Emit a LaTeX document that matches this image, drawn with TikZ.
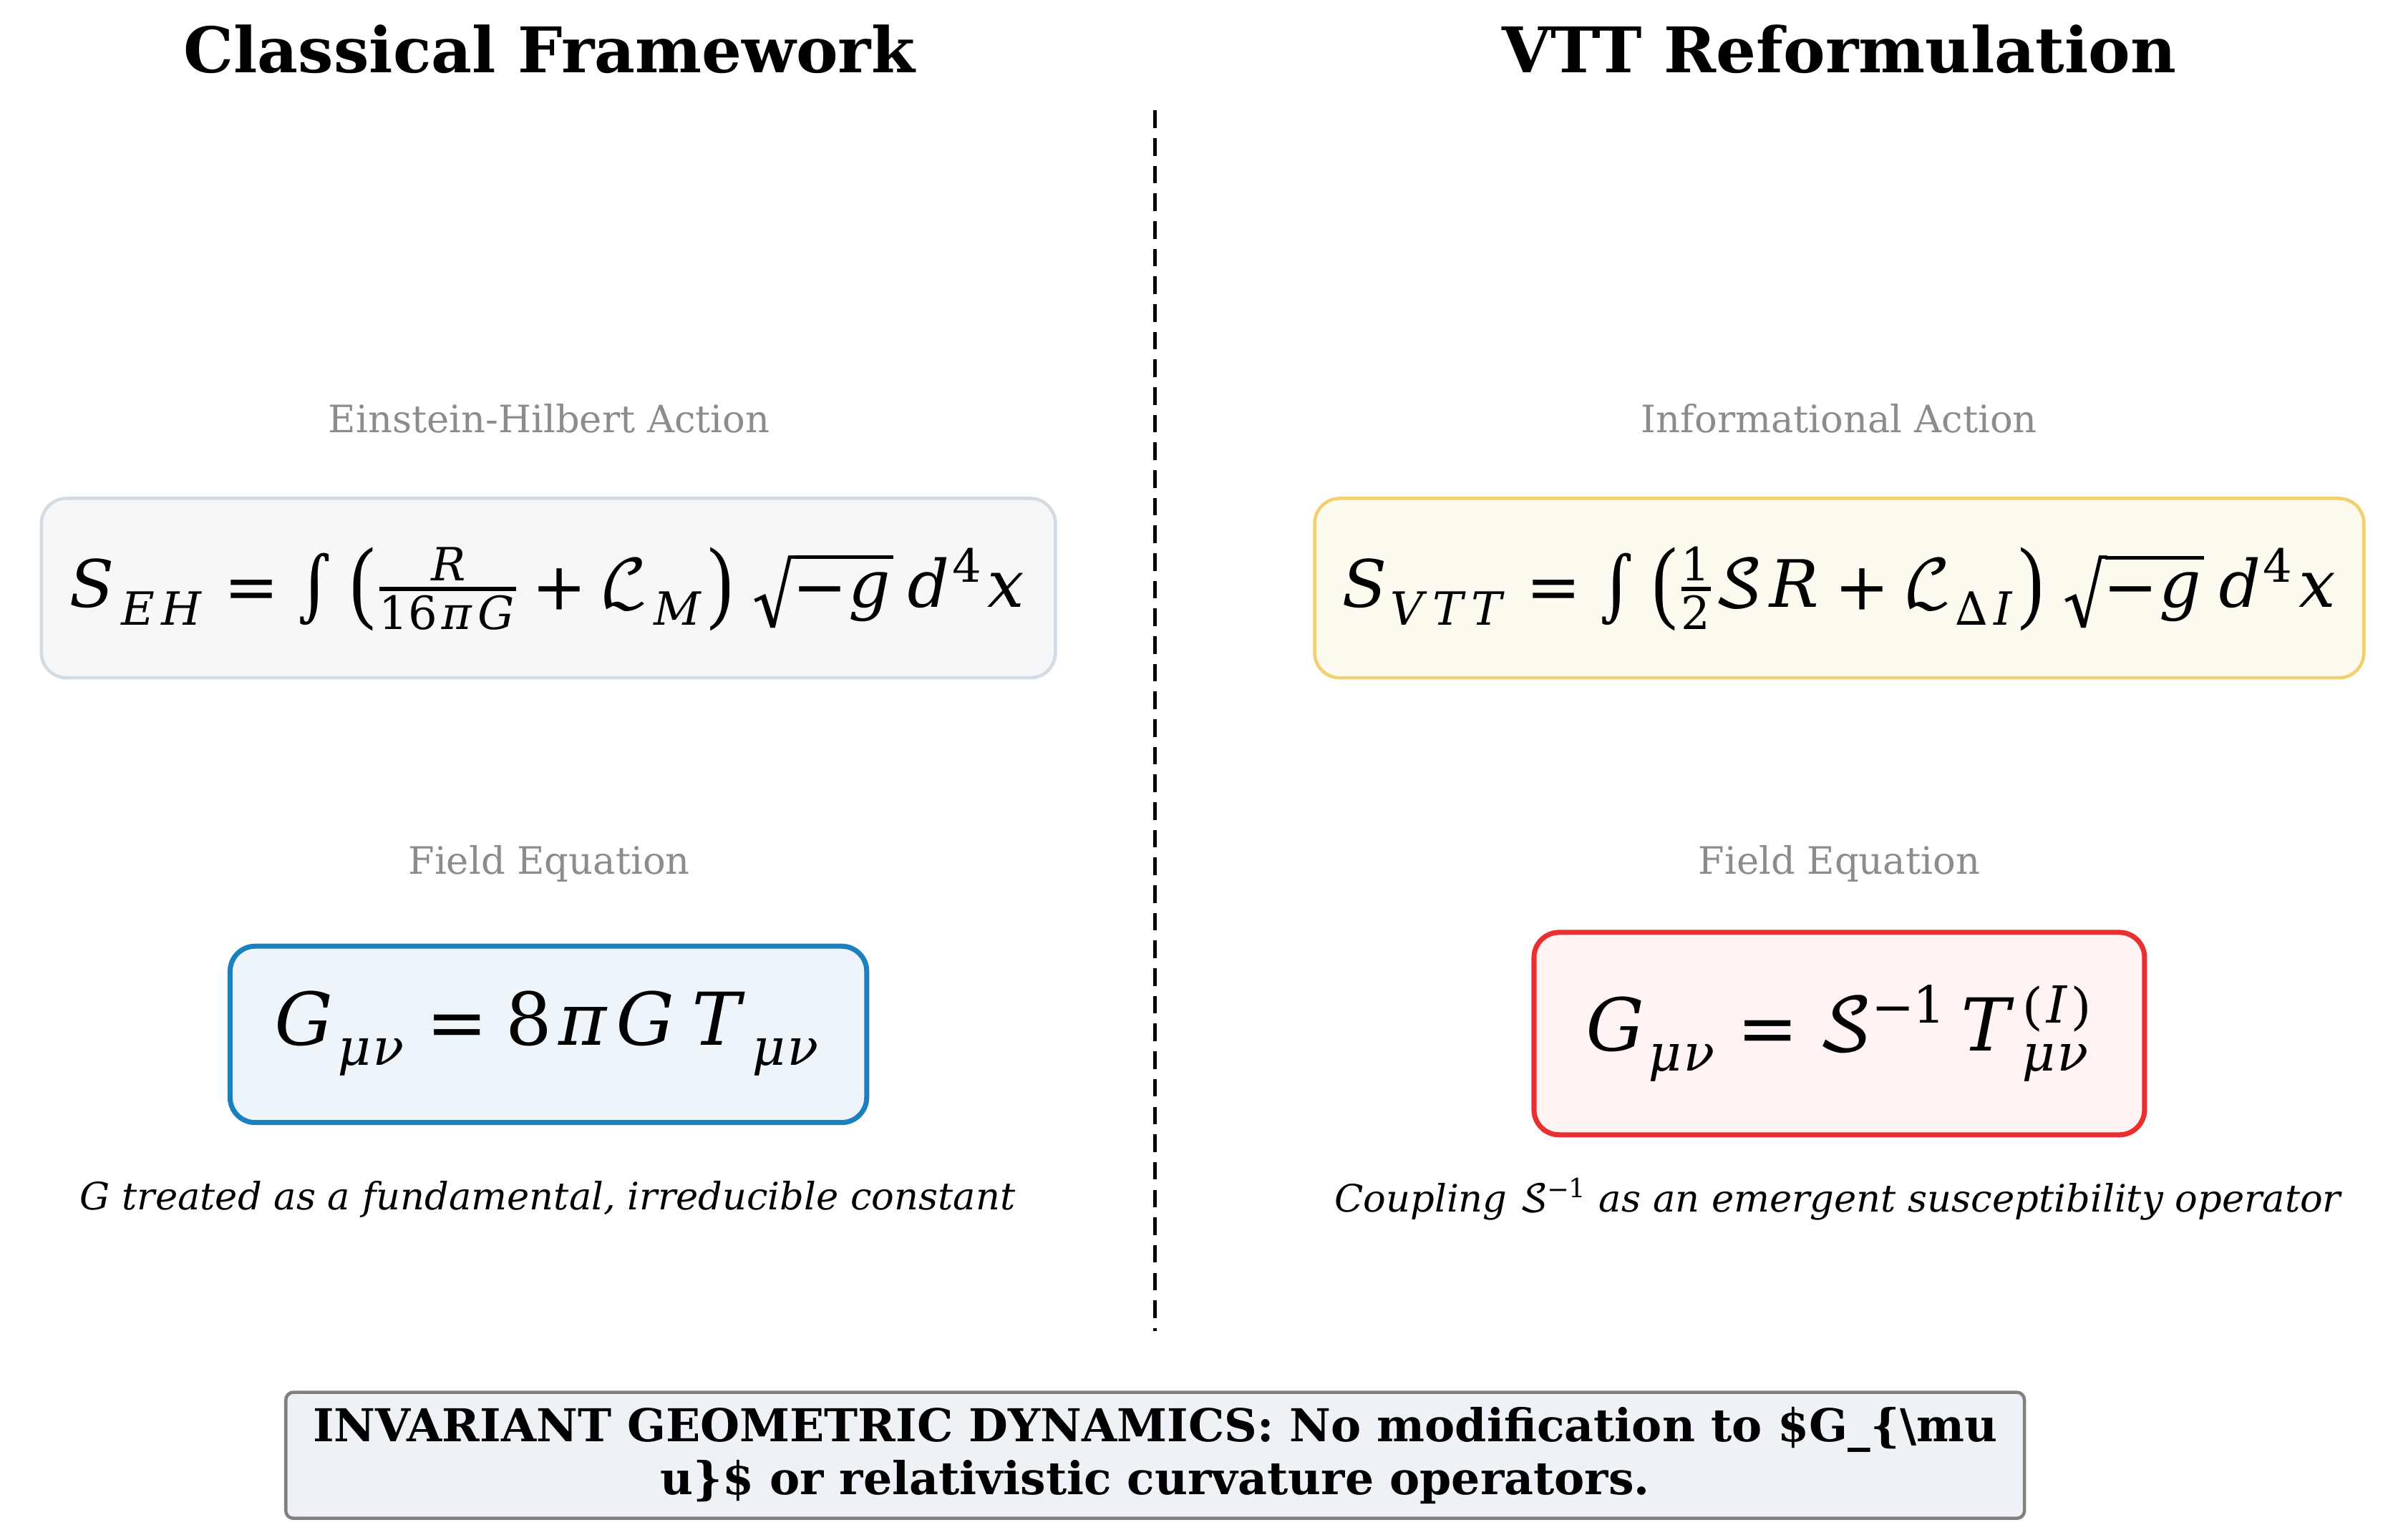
\documentclass[tikz,border=0pt]{standalone}
\usepackage{fontspec}
\usepackage{unicode-math}
\setmainfont{DejaVu Serif}
\setmathfont{DejaVu Math TeX Gyre}
\definecolor{b1f}{RGB}{245,247,248}
\definecolor{b1d}{RGB}{212,219,226}
\definecolor{b2f}{RGB}{253,250,240}
\definecolor{b2d}{RGB}{242,208,112}
\definecolor{b3f}{RGB}{238,245,250}
\definecolor{b3d}{RGB}{26,128,192}
\definecolor{b4f}{RGB}{255,243,243}
\definecolor{b4d}{RGB}{232,48,48}
\definecolor{b5f}{RGB}{238,242,247}
\begin{document}
\begin{tikzpicture}[x=0.02143cm,y=-0.02143cm,
  ttl/.style={font=\fontsize{25}{30}\selectfont\bfseries},
  lbl/.style={font=\fontsize{15}{18}\selectfont, text=black!45},
  captxt/.style={font=\fontsize{15}{18}\selectfont\itshape}]
\useasboundingbox (0,0) rectangle (1560,1004);
\node[ttl] (t1) at (358,32) {Classical Framework};
\node[ttl] (t2) at (1199,32) {VTT Reformulation};
\coordinate (d1) at (753,72);
\coordinate (d2) at (753,868);
\draw[line width=1.3pt, dash pattern=on 7pt off 4pt] (d1) -- (d2);
\node[lbl] (l1) at (358,273) {Einstein-Hilbert Action};
\node[lbl] (l2) at (1199,273) {Informational Action};
\node[lbl] (l3) at (358,563) {Field Equation};
\node[lbl] (l4) at (1199,563) {Field Equation};
\filldraw[draw=b1d, line width=1.3pt, fill=b1f, rounded corners=0.35cm] (27,325) rectangle (688,442);
\filldraw[draw=b2d, line width=1.3pt, fill=b2f, rounded corners=0.35cm] (857,325) rectangle (1541,442);
\filldraw[draw=b3d, line width=2pt, fill=b3f, rounded corners=0.35cm] (150,617) rectangle (565,732);
\filldraw[draw=b4d, line width=2pt, fill=b4f, rounded corners=0.35cm] (1000,608) rectangle (1398,740);
\node[font=\fontsize{26}{30}\selectfont] (e1) at (357,384) {$S_{EH}=\int\left(\frac{R}{16\pi G}+\mathcal{L}_M\right)\sqrt{-g}\,d^4x$};
\node[font=\fontsize{26}{30}\selectfont] (e2) at (1199,384) {$S_{VTT}=\int\left(\frac{1}{2}\mathcal{S}R+\mathcal{L}_{\Delta I}\right)\sqrt{-g}\,d^4x$};
\node[font=\fontsize{29}{34}\selectfont] (e3) at (357,674) {$G_{\mu\nu}=8\pi G\,T_{\mu\nu}$};
\node[font=\fontsize{29}{34}\selectfont] (e4) at (1199,674) {$G_{\mu\nu}=\mathcal{S}^{-1}\,T^{(I)}_{\mu\nu}$};
\node[captxt] (c1) at (357,782) {G treated as a fundamental, irreducible constant};
\node[captxt] (c2) at (1198,782) {Coupling $\mathcal{S}^{-1}$ as an emergent susceptibility operator};
\node[draw=black!50, line width=1.3pt, fill=b5f, rounded corners=3pt, minimum width=24.28cm, minimum height=1.76cm, align=center, font=\fontsize{18}{21}\selectfont\bfseries] (b) at (753,949) {INVARIANT GEOMETRIC DYNAMICS: No modification to \$G\_\{\textbackslash mu\\u\}\$ or relativistic curvature operators.};
\end{tikzpicture}
\end{document}
